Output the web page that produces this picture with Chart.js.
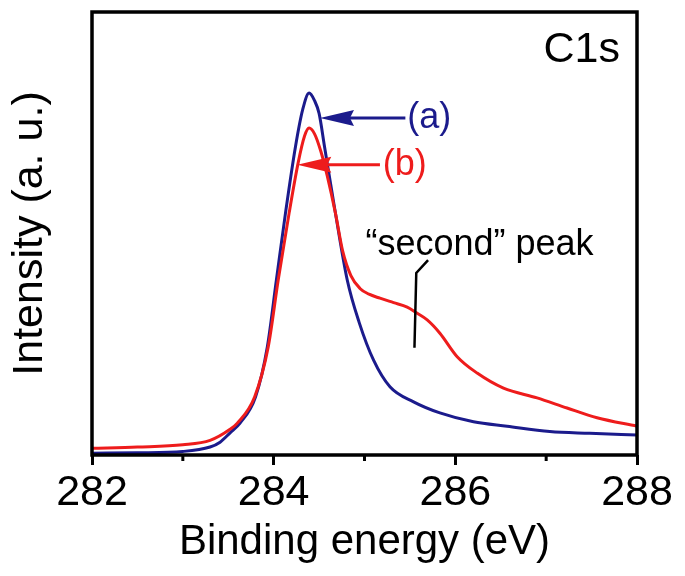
<!DOCTYPE html>
<html>
<head>
<meta charset="utf-8">
<script src="https://cdn.jsdelivr.net/npm/chart.js@4.4.1/dist/chart.umd.min.js"></script>
<style>
  html, body { margin: 0; padding: 0; background: #fff; }
</style>
</head>
<body>
<canvas id="xps" width="685" height="576"></canvas>
<script>
// C1s spectra (binding energy in eV, intensity in a.u.)
const energyA = [282.0, 282.5, 283.0, 283.3, 283.41, 283.52, 283.63, 283.80, 283.93, 284.03, 284.13, 284.24, 284.32, 284.39, 284.45, 284.50, 284.56, 284.68, 284.81, 284.94, 285.1, 285.28, 285.54, 285.83, 286.2, 286.57, 287.04, 287.48, 288.0];
const intensityA = [0.4, 0.5, 0.8, 1.8, 2.9, 5.0, 7.2, 13.1, 24.4, 39.5, 54.6, 69.6, 78, 81.7, 80, 77.1, 69.6, 54.6, 39.5, 30, 21.4, 15.4, 12, 9.5, 7.5, 6.5, 5.3, 4.9, 4.5];

const energyB = [282.0, 282.5, 283.0, 283.3, 283.52, 283.6, 283.79, 283.94, 284.05, 284.17, 284.27, 284.34, 284.39, 284.45, 284.52, 284.59, 284.68, 284.76, 284.85, 284.95, 285.05, 285.17, 285.32, 285.47, 285.58, 285.69, 285.83, 286.02, 286.24, 286.53, 286.9, 287.23, 287.56, 288.0];
const intensityB = [1.5, 1.8, 2.3, 3.3, 5.8, 7.2, 13.1, 24.4, 39.5, 54.6, 66, 72, 73.8, 72.5, 68.5, 63, 54.6, 46, 40.5, 37.6, 36.3, 35.4, 34.4, 33.4, 32, 30.5, 27.5, 22.2, 18.5, 15.1, 12.9, 10.6, 8.4, 6.5];

const xMin = 282, xMax = 288;
const majorStep = 2;
const minorTicks = [283, 285, 287];

const blue = '#1b1b8c';
const red = '#ee1c1c';
const fontFam = "'Liberation Sans', Arial, sans-serif";

const toPoints = (xs, ys) => xs.map((e, i) => ({ x: e, y: ys[i] }));

// arrows + labels + box drawn on top, placed through the scales
const notes = {
  id: 'notes',
  afterDatasetsDraw(chart) {
    const { ctx, chartArea: a, scales: { x, y } } = chart;
    ctx.save();

    // minor ticks
    ctx.strokeStyle = '#000';
    ctx.lineWidth = 3;
    minorTicks.forEach(v => {
      const px = x.getPixelForValue(v);
      ctx.beginPath();
      ctx.moveTo(px, a.bottom);
      ctx.lineTo(px, a.bottom + 6);
      ctx.stroke();
    });

    // frame
    ctx.lineWidth = 3.5;
    ctx.strokeRect(a.left, a.top, a.right - a.left, a.bottom - a.top);

    const arrow = (tipE, endE, v, color) => {
      const tx = x.getPixelForValue(tipE), ex = x.getPixelForValue(endE), py = y.getPixelForValue(v);
      ctx.strokeStyle = color;
      ctx.fillStyle = color;
      ctx.lineWidth = 3;
      ctx.beginPath();
      ctx.moveTo(tx + 20, py);
      ctx.lineTo(ex, py);
      ctx.stroke();
      ctx.beginPath();
      ctx.moveTo(tx, py);
      ctx.lineTo(tx + 34, py - 8);
      ctx.lineTo(tx + 30, py);
      ctx.lineTo(tx + 34, py + 8);
      ctx.closePath();
      ctx.fill();
    };
    arrow(284.51, 285.45, 76.1, blue);
    arrow(284.26, 285.17, 65.5, red);

    ctx.textBaseline = 'middle';
    ctx.textAlign = 'left';
    ctx.font = '36px ' + fontFam;
    ctx.fillStyle = blue;
    ctx.fillText('(a)', x.getPixelForValue(285.47), y.getPixelForValue(76.1));
    ctx.fillStyle = red;
    ctx.fillText('(b)', x.getPixelForValue(285.2), y.getPixelForValue(65.5));

    ctx.fillStyle = '#000';
    ctx.textBaseline = 'alphabetic';
    ctx.font = '36px ' + fontFam;
    ctx.fillText('\u201Csecond\u201D peak', x.getPixelForValue(285.01), y.getPixelForValue(45.1));

    // leader line to the shoulder
    ctx.strokeStyle = '#000';
    ctx.lineWidth = 2.5;
    ctx.beginPath();
    ctx.moveTo(x.getPixelForValue(285.70), y.getPixelForValue(44));
    ctx.lineTo(x.getPixelForValue(285.57), y.getPixelForValue(41.1));
    ctx.lineTo(x.getPixelForValue(285.55), y.getPixelForValue(24.2));
    ctx.stroke();

    ctx.textAlign = 'right';
    ctx.font = '43px ' + fontFam;
    ctx.fillText('C1s', a.right - 17, a.top + 50);

    ctx.restore();
  }
};

new Chart(document.getElementById('xps'), {
  type: 'line',
  data: {
    datasets: [
      { label: '(b)', data: toPoints(energyB, intensityB), borderColor: red, borderWidth: 3, pointRadius: 0, fill: false, cubicInterpolationMode: 'monotone' },
      { label: '(a)', data: toPoints(energyA, intensityA), borderColor: blue, borderWidth: 3, pointRadius: 0, fill: false, cubicInterpolationMode: 'monotone' }
    ]
  },
  options: {
    responsive: false,
    animation: false,
    layout: { padding: { left: 0, right: 48, top: 12, bottom: 0 } },
    plugins: { legend: { display: false }, tooltip: { enabled: false } },
    scales: {
      x: {
        type: 'linear',
        min: xMin, max: xMax,
        afterFit: s => { s.height = 121; },
        grid: { display: true, drawOnChartArea: false, tickLength: 10, tickWidth: 3, tickColor: '#000' },
        border: { display: false },
        ticks: { stepSize: majorStep, color: '#000', font: { family: fontFam, size: 43 }, padding: 2, maxRotation: 0 },
        title: { display: true, text: 'Binding energy (eV)', color: '#000', font: { family: fontFam, size: 42 }, padding: { top: 0, bottom: 8 } }
      },
      y: {
        min: 0, max: 100,
        afterFit: s => { s.width = 92; },
        grid: { display: false },
        border: { display: false },
        ticks: { display: false },
        title: { display: true, text: 'Intensity (a. u.)', color: '#000', font: { family: fontFam, size: 43 }, padding: { top: 4, bottom: 0 } }
      }
    }
  },
  plugins: [notes]
});
</script>
</body>
</html>
